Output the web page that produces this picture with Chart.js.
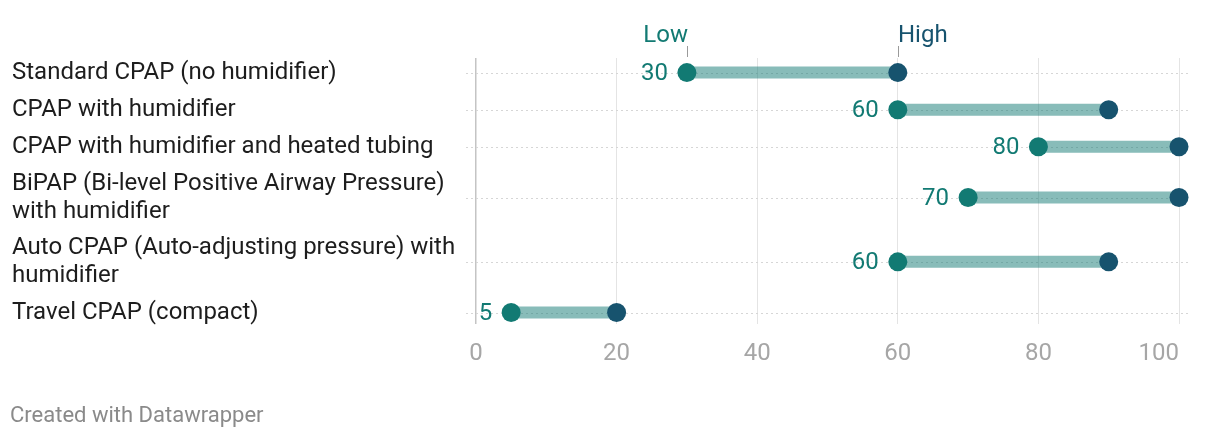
<!DOCTYPE html>
<html>
<head>
<meta charset="utf-8">
<script src="https://cdn.jsdelivr.net/npm/chart.js@4.4.1/dist/chart.umd.min.js"></script>
<style>
  html, body { margin: 0; padding: 0; background: #fff; }
  #wrap { width: 1220px; height: 442px; position: relative; }
</style>
</head>
<body>
<div id="wrap"><canvas id="chart" width="1220" height="442"></canvas></div>
<script>
// Data
const categories = [
    ['Standard CPAP (no humidifier)'],
    ['CPAP with humidifier'],
    ['CPAP with humidifier and heated tubing'],
    ['BiPAP (Bi-level Positive Airway Pressure)', 'with humidifier'],
    ['Auto CPAP (Auto-adjusting pressure) with', 'humidifier'],
    ['Travel CPAP (compact)']
];
const lowValues = [30, 60, 80, 70, 60, 5];
const highValues = [60, 90, 100, 100, 90, 20];
const xTicks = [0, 20, 40, 60, 80, 100];

const LOW_COLOR = '#127a73';
const HIGH_COLOR = '#17536e';
const FONT = 'Roboto, "Noto Sans", sans-serif';

// Row positions follow label heights (one-line rows are shorter than wrapped ones)
const rowPos = [];
let acc = 0;
categories.forEach(lines => {
    const h = lines.length > 1 ? 65 : 37.5;
    rowPos.push(acc + h / 2);
    acc += h;
});

const dumbbell = {
    id: 'dumbbell',
    beforeDatasetsDraw(chart) {
        const ctx = chart.ctx;
        const xs = chart.scales.x, ys = chart.scales.y;
        ctx.save();
        // dotted row guides
        ctx.strokeStyle = '#d6d6d6';
        ctx.lineWidth = 1;
        ctx.setLineDash([2, 3]);
        rowPos.forEach(p => {
            const y = Math.round(ys.getPixelForValue(p)) + 0.5;
            ctx.beginPath();
            ctx.moveTo(xs.left - 10, y);
            ctx.lineTo(xs.right + 11, y);
            ctx.stroke();
        });
        ctx.setLineDash([]);
        // connecting bars
        ctx.strokeStyle = 'rgba(18,122,115,0.5)';
        ctx.lineWidth = 12;
        rowPos.forEach((p, i) => {
            const y = ys.getPixelForValue(p);
            ctx.beginPath();
            ctx.moveTo(xs.getPixelForValue(lowValues[i]), y);
            ctx.lineTo(xs.getPixelForValue(highValues[i]), y);
            ctx.stroke();
        });
        ctx.restore();
    },
    afterDraw(chart) {
        const ctx = chart.ctx;
        const xs = chart.scales.x, ys = chart.scales.y;
        ctx.save();
        ctx.font = '24px ' + FONT;
        ctx.textBaseline = 'middle';
        // category labels
        ctx.fillStyle = '#1d1d1d';
        ctx.textAlign = 'left';
        rowPos.forEach((p, i) => {
            const y = ys.getPixelForValue(p);
            const lines = categories[i];
            const lh = 28;
            const y0 = y - (lines.length - 1) * lh / 2;
            lines.forEach((t, k) => ctx.fillText(t, 12, y0 + k * lh));
        });
        // low value labels
        ctx.fillStyle = LOW_COLOR;
        ctx.textAlign = 'right';
        rowPos.forEach((p, i) => {
            ctx.fillText(String(lowValues[i]), xs.getPixelForValue(lowValues[i]) - 19, ys.getPixelForValue(p) + 1);
        });
        // Low / High header on first row
        const lx = Math.round(xs.getPixelForValue(lowValues[0])) + 0.5;
        const hx = Math.round(xs.getPixelForValue(highValues[0])) + 0.5;
        ctx.strokeStyle = '#9a9a9a';
        ctx.lineWidth = 1;
        [lx, hx].forEach(x => {
            ctx.beginPath();
            ctx.moveTo(x, 46);
            ctx.lineTo(x, 57);
            ctx.stroke();
        });
        ctx.textBaseline = 'alphabetic';
        ctx.textAlign = 'right';
        ctx.fillStyle = LOW_COLOR;
        ctx.fillText('Low', lx + 0.5, 42);
        ctx.textAlign = 'left';
        ctx.fillStyle = HIGH_COLOR;
        ctx.fillText('High', hx - 0.5, 42);
        // footer
        ctx.font = '22px ' + FONT;
        ctx.fillStyle = '#8a8a8a';
        ctx.textBaseline = 'middle';
        ctx.fillText('Created with Datawrapper', 10, 416);
        ctx.restore();
    }
};

new Chart(document.getElementById('chart').getContext('2d'), {
    type: 'scatter',
    data: {
        datasets: [{
            label: 'Low',
            data: lowValues.map((v, i) => ({ x: v, y: rowPos[i] })),
            backgroundColor: LOW_COLOR,
            borderWidth: 0,
            pointRadius: 9.5,
            pointHoverRadius: 9.5,
            clip: false
        }, {
            label: 'High',
            data: highValues.map((v, i) => ({ x: v, y: rowPos[i] })),
            backgroundColor: HIGH_COLOR,
            borderWidth: 0,
            pointRadius: 9.5,
            pointHoverRadius: 9.5,
            clip: false
        }]
    },
    options: {
        responsive: false,
        animation: false,
        layout: {
            padding: { left: 476, right: 41, top: 58, bottom: 59 }
        },
        plugins: {
            legend: { display: false },
            tooltip: { enabled: false }
        },
        scales: {
            x: {
                type: 'linear',
                min: xTicks[0],
                max: xTicks[xTicks.length - 1],
                afterBuildTicks(scale) {
                    scale.ticks = xTicks.map(v => ({ value: v }));
                },
                // keep the plot edges fixed by the layout padding only
                afterFit(scale) {
                    scale.paddingLeft = 0;
                    scale.paddingRight = 0;
                },
                grid: {
                    drawTicks: false,
                    color: ctx => ctx.tick && ctx.tick.value === 0 ? '#c4c4c4' : '#e4e4e4',
                    lineWidth: ctx => ctx.tick && ctx.tick.value === 0 ? 1.5 : 1
                },
                border: { display: false },
                ticks: {
                    padding: 15,
                    color: '#a6a6a6',
                    font: { family: FONT, size: 24 },
                    // last label sits inside the plot edge, as in the original
                    callback: v => v === xTicks[xTicks.length - 1] ? v + '\u2007\u2007\u2007' : String(v)
                }
            },
            y: {
                type: 'linear',
                display: false,
                reverse: true,
                min: 4,
                max: 273
            }
        }
    },
    plugins: [dumbbell]
});
</script>
</body>
</html>
